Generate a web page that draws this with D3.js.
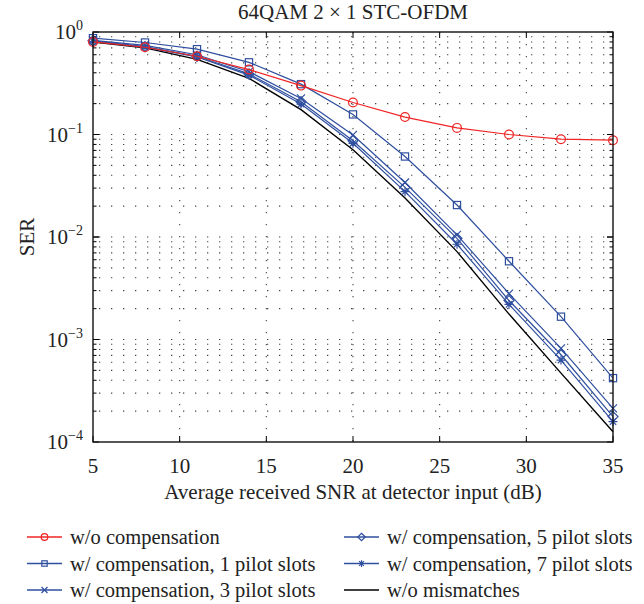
<!DOCTYPE html>
<html>
<head>
<meta charset="utf-8">
<script src="https://cdn.jsdelivr.net/npm/d3@7"></script>
<style>
  body { margin: 0; background: #fff; }
  text { font-family: "Liberation Serif", "DejaVu Serif", serif; fill: #222; }
</style>
</head>
<body>
<div id="chart"></div>
<script>
// SER vs SNR
var snr = [5, 8, 11, 14, 17, 20, 23, 26, 29, 32, 35]
var woComp  = [0.80, 0.71, 0.58, 0.43, 0.30, 0.205, 0.148, 0.116, 0.100, 0.090, 0.088]
var pilot1  = [0.87, 0.79, 0.68, 0.506, 0.31, 0.157, 0.061, 0.0205, 0.0058, 0.00167, 0.00042]
var pilot3  = [0.83, 0.74, 0.60, 0.41, 0.225, 0.099, 0.034, 0.0105, 0.0028, 0.00082, 0.000213]
var pilot5  = [0.82, 0.72, 0.58, 0.39, 0.209, 0.087, 0.0305, 0.0097, 0.0024, 0.00071, 0.000177]
var pilot7  = [0.81, 0.71, 0.57, 0.38, 0.198, 0.082, 0.0277, 0.0085, 0.0022, 0.00063, 0.000158]
var noMis   = [0.80, 0.70, 0.54, 0.353, 0.175, 0.071, 0.024, 0.0072, 0.00177, 0.00047, 0.000126]

var seriesNames = ['w/o compensation', 'w/ compensation, 1 pilot slots', 'w/ compensation, 3 pilot slots',
  'w/ compensation, 5 pilot slots', 'w/ compensation, 7 pilot slots', 'w/o mismatches']
var xTicks = [5, 10, 15, 20, 25, 30, 35]
var yExps = [0, -1, -2, -3, -4]

var red = '#f02424', blue = '#2f4f9f'
var series = [
  { name: seriesNames[0], vals: woComp, color: red, mark: 'circle' },
  { name: seriesNames[1], vals: pilot1, color: blue, mark: 'square' },
  { name: seriesNames[2], vals: pilot3, color: blue, mark: 'cross' },
  { name: seriesNames[3], vals: pilot5, color: blue, mark: 'diamond' },
  { name: seriesNames[4], vals: pilot7, color: blue, mark: 'star' },
  { name: seriesNames[5], vals: noMis, color: '#000', mark: null }
]

var W = 644, H = 604
var m = { left: 93, right: 613, top: 32, bottom: 442 }

var svg = d3.select('#chart').append('svg')
  .attr('width', W)
  .attr('height', H)

var x = d3.scaleLinear().domain([5, 35]).range([m.left, m.right])
var y = d3.scaleLog().domain([1e-4, 1]).range([m.bottom, m.top])

// dotted grid
var grid = svg.append('g').attr('stroke', '#444').attr('stroke-width', 1.1).attr('stroke-dasharray', '1.3,10.7')
xTicks.slice(1, -1).forEach(t => {
  grid.append('line').attr('x1', x(t)).attr('x2', x(t)).attr('y1', m.top).attr('y2', m.bottom)
})
var minorY = []
for (var e = -4; e < 0; e++) for (var k = 1; k < 10; k++) if (!(k == 1 && e == -4)) minorY.push(k * Math.pow(10, e))
minorY.forEach(v => {
  grid.append('line').attr('x1', m.left + 6).attr('x2', m.right).attr('y1', y(v)).attr('y2', y(v))
})

// ticks inside box
var ticks = svg.append('g').attr('stroke', '#000').attr('stroke-width', 1)
xTicks.forEach(t => {
  ticks.append('line').attr('x1', x(t)).attr('x2', x(t)).attr('y1', m.bottom).attr('y2', m.bottom - 6)
  ticks.append('line').attr('x1', x(t)).attr('x2', x(t)).attr('y1', m.top).attr('y2', m.top + 6)
})
minorY.concat(yExps.map(e => Math.pow(10, e))).forEach(v => {
  var len = Math.abs(Math.log10(v) - Math.round(Math.log10(v))) < 1e-9 ? 6 : 3.5
  ticks.append('line').attr('x1', m.left).attr('x2', m.left + len).attr('y1', y(v)).attr('y2', y(v))
  ticks.append('line').attr('x1', m.right).attr('x2', m.right - len).attr('y1', y(v)).attr('y2', y(v))
})

// markers
function marker(g, type, cx, cy, color, s) {
  s = s || 1
  var p = g.append('g').attr('transform', `translate(${cx},${cy}) scale(${s})`)
    .attr('stroke', color).attr('fill', 'none').attr('stroke-width', 1.2 / s)
  if (type == 'circle') p.append('circle').attr('r', 4.4)
  if (type == 'square') p.append('rect').attr('x', -3.6).attr('y', -3.6).attr('width', 7.2).attr('height', 7.2)
  if (type == 'cross') p.append('path').attr('d', 'M-4,-4L4,4M-4,4L4,-4')
  if (type == 'diamond') p.append('path').attr('d', 'M0,-5L5,0L0,5L-5,0Z')
  if (type == 'star') p.append('path').attr('d', 'M-4.5,0L4.5,0M0,-4.5L0,4.5M-3.2,-3.2L3.2,3.2M-3.2,3.2L3.2,-3.2')
}

var line = d3.line().x((d, i) => x(snr[i])).y(d => y(d))
var plot = svg.append('g')
series.slice().reverse().forEach(s => {
  plot.append('path').datum(s.vals)
    .attr('d', line)
    .attr('fill', 'none')
    .attr('stroke', s.color)
    .attr('stroke-width', s.mark ? 1.2 : 1.4)
  if (s.mark) s.vals.forEach((v, i) => marker(plot, s.mark, x(snr[i]), y(v), s.color))
})

// box
svg.append('rect').attr('x', m.left).attr('y', m.top)
  .attr('width', m.right - m.left).attr('height', m.bottom - m.top)
  .attr('fill', 'none').attr('stroke', '#111').attr('stroke-width', 1.4)

// tick labels
svg.append('g').selectAll('text').data(xTicks).enter().append('text')
  .attr('x', d => x(d)).attr('y', m.bottom + 31)
  .attr('text-anchor', 'middle').style('font-size', '21px')
  .text(d => d)

var yl = svg.append('g').selectAll('text').data(yExps).enter().append('text')
  .attr('x', m.left - 10).attr('y', d => y(Math.pow(10, d)) + 7)
  .attr('text-anchor', 'end').style('font-size', '21px')
yl.append('tspan').text('10')
yl.append('tspan').attr('dy', -9).style('font-size', '14px').text(d => d == 0 ? '0' : '\u2212' + (-d))

// titles
svg.append('text').attr('x', (m.left + m.right) / 2).attr('y', 19)
  .attr('text-anchor', 'middle').style('font-size', '21px')
  .text('64QAM 2 \u00d7 1 STC-OFDM')
svg.append('text').attr('x', (m.left + m.right) / 2).attr('y', m.bottom + 57)
  .attr('text-anchor', 'middle').style('font-size', '21px')
  .text('Average received SNR at detector input (dB)')
svg.append('text').attr('transform', `translate(34,${(m.top + m.bottom) / 2}) rotate(-90)`)
  .attr('text-anchor', 'middle').style('font-size', '21px')
  .text('SER')

// legend
var leg = svg.append('g')
series.forEach((s, i) => {
  var col = i < 3 ? 0 : 1, row = i % 3
  var lx = col ? 344 : 27, ly = 537 + row * 26.5
  leg.append('line').attr('x1', lx).attr('x2', lx + 35).attr('y1', ly).attr('y2', ly)
    .attr('stroke', s.color).attr('stroke-width', 1.3)
  if (s.mark) marker(leg, s.mark, lx + 17.5, ly, s.color, 0.75)
  leg.append('text').attr('x', lx + 43).attr('y', ly + 7).style('font-size', '20.5px').text(s.name)
})
</script>
</body>
</html>
